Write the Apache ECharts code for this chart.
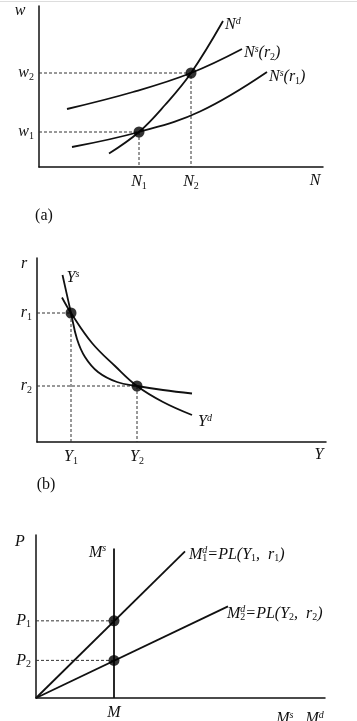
<!DOCTYPE html>
<html><head><meta charset="utf-8">
<script src="https://cdn.jsdelivr.net/npm/echarts@6/dist/echarts.min.js"></script>
<style>html,body{margin:0;padding:0;background:#fff}#c{width:357px;height:721px}</style>
</head><body><div id="c"></div>
<script>
// ---------- Panel (a): labour market ----------
const wTicks = [35, 94];
const wTickLabels = [['w', '1'], ['w', '2']];
const nTicks = [100, 152];
const nTickLabels = [['N', '1'], ['N', '2']];
const laborDemand = [[70, 13.5], [100, 35], [126, 62], [152, 94], [184, 146]];
const laborSupplyR2 = [[28, 58], [94, 75], [152, 94], [203, 118]];
const laborSupplyR1 = [[33, 20], [100, 35], [161, 55.5], [228, 95]];
const laborEquilibria = [[100, 35], [152, 94]];

// ---------- Panel (b): goods market ----------
const rTicks = [56, 129];
const rTickLabels = [['r', '2'], ['r', '1']];
const yTicks = [34, 100];
const yTickLabels = [['Y', '1'], ['Y', '2']];
const outputSupply = [[155, 48.5], [126, 52], [100, 56], [80, 60], [61, 70], [48, 85], [40, 103], [34, 129], [25.5, 167]];
const outputDemand = [[25, 144.5], [34, 129], [55, 99], [78, 76], [100, 56], [126, 40], [155, 27]];
const goodsEquilibria = [[34, 129], [100, 56]];

// ---------- Panel (c): money market ----------
const pTicks = [39, 80];
const pTickLabels = [['P', '2'], ['P', '1']];
const mTicks = [78];
const mTickLabels = [['M', '']];
const moneySupply = [[78, 0], [78, 155]];
const moneyDemand1 = [[0, 0], [149, 152]];
const moneyDemand2 = [[0, 0], [192, 95]];
const moneyEquilibria = [[78, 80], [78, 39]];

const serif = "'Liberation Serif', 'DejaVu Serif', serif";
const ink = '#111';
const rich = {
  i: { fontFamily: serif, fontStyle: 'italic', fontSize: 16, lineHeight: 18, color: ink },
  n: { fontFamily: serif, fontSize: 16, lineHeight: 18, color: ink },
  sub: { fontFamily: serif, fontSize: 10, lineHeight: 10, verticalAlign: 'bottom', color: ink },
  sup: { fontFamily: serif, fontStyle: 'italic', fontSize: 10, lineHeight: 10, verticalAlign: 'top', color: ink },
  supz: { fontFamily: serif, fontStyle: 'italic', fontSize: 10, lineHeight: 10, verticalAlign: 'top', color: ink, width: 0 }
};
const lbl = (p) => '{i|' + p[0] + '}' + (p[1] ? '{sub|' + p[1] + '}' : '');
function tickFormatter(values, labels) {
  return (v) => { const k = values.indexOf(v); return k >= 0 ? lbl(labels[k]) : ''; };
}

const grids = [
  { left: 39, top: 6, width: 284, height: 161 },
  { left: 37, top: 258, width: 289, height: 184 },
  { left: 36, top: 535, width: 289, height: 169 }
];
const axisMax = [[284, 161], [289, 184], [289, 169]];
const axisLine = { show: true, lineStyle: { color: ink, width: 1.5 } };

function xAxis(i, ticks, labels) {
  return { type: 'value', gridIndex: i, min: 0, max: axisMax[i][0], splitLine: { show: false },
    axisLine, axisTick: { show: false },
    axisLabel: { customValues: ticks, formatter: tickFormatter(ticks, labels), rich, margin: 6 } };
}
function yAxis(i, ticks, labels) {
  return { type: 'value', gridIndex: i, min: 0, max: axisMax[i][1], splitLine: { show: false },
    axisLine, axisTick: { show: false },
    axisLabel: { customValues: ticks, formatter: tickFormatter(ticks, labels), rich, margin: 5 } };
}

function curve(i, data, label, offset, smooth) {
  return { type: 'line', xAxisIndex: i, yAxisIndex: i, data,
    smooth: smooth === undefined ? 0.4 : smooth,
    showSymbol: false, silent: true, lineStyle: { color: ink, width: 1.8 },
    endLabel: label ? { show: true, formatter: () => label, rich, distance: 2, offset } : { show: false } };
}
function guides(i, pts, vertical) {
  return pts.map(p => ({ type: 'line', xAxisIndex: i, yAxisIndex: i,
    data: vertical ? [[0, p[1]], [p[0], p[1]], [p[0], 0]] : [[0, p[1]], [p[0], p[1]]],
    showSymbol: false, silent: true, lineStyle: { color: '#333', width: 1, type: [3, 2] } }));
}
function dots(i, pts) {
  return { type: 'scatter', xAxisIndex: i, yAxisIndex: i, data: pts, symbolSize: 11,
    itemStyle: { color: '#000' }, silent: true, z: 5 };
}

const txt = (x, y, text, align) => ({ type: 'text', x, y,
  style: { text, rich, align: align || 'center', verticalAlign: 'middle', fill: ink } });

const option = {
  animation: false,
  backgroundColor: '#fff',
  grid: grids,
  xAxis: [xAxis(0, nTicks, nTickLabels), xAxis(1, yTicks, yTickLabels), xAxis(2, mTicks, mTickLabels)],
  yAxis: [yAxis(0, wTicks, wTickLabels), yAxis(1, rTicks, rTickLabels), yAxis(2, pTicks, pTickLabels)],
  series: [
    ...guides(0, laborEquilibria, true),
    curve(0, laborDemand, '{i|N}{sup|d}', [0, 4]),
    curve(0, laborSupplyR2, '{i|N}{sup|s}{i|(r}{sub|2}{i|)}', [0, 4]),
    curve(0, laborSupplyR1, '{i|N}{sup|s}{i|(r}{sub|1}{i|)}', [0, 5]),
    dots(0, laborEquilibria),
    ...guides(1, goodsEquilibria, true),
    curve(1, outputSupply, '{i|Y}{sup|s}', [2, 3]),
    curve(1, outputDemand, '{i|Y}{sup|d}', [4, 7]),
    dots(1, goodsEquilibria),
    ...guides(2, moneyEquilibria, false),
    curve(2, moneySupply, '{i|M}{sup|s}', [-27, 4], false),
    curve(2, moneyDemand1, '{i|M}{supz|d}{sub|1}{i|=PL(Y}{sub|1}{i|,  r}{sub|1}{i|)}', [2, 3], false),
    curve(2, moneyDemand2, '{i|M}{supz|d}{sub|2}{i|=PL(Y}{sub|2}{i|,  r}{sub|2}{i|)}', [-3, 7], false),
    dots(2, moneyEquilibria)
  ],
  graphic: [
    { type: 'line', shape: { x1: 0, y1: 1.5, x2: 357, y2: 1.5 }, style: { stroke: '#ddd', lineWidth: 1 } },
    txt(20, 11, '{i|w}'),
    txt(315, 181, '{i|N}'),
    txt(44, 216, '{n|(a)}'),
    txt(24, 264, '{i|r}'),
    txt(319, 455, '{i|Y}'),
    txt(46, 485, '{n|(b)}'),
    txt(20, 542, '{i|P}'),
    txt(300, 719, '{i|M}{sup|s}{i|,  M}{sup|d}')
  ]
};
echarts.init(document.getElementById('c')).setOption(option);
</script></body></html>
